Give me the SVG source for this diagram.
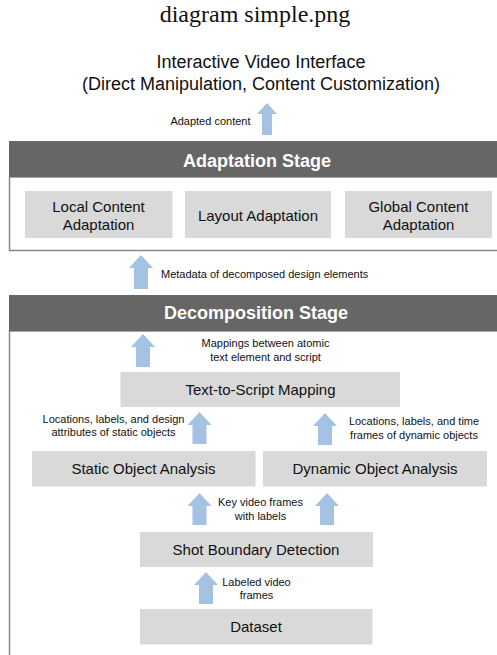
<svg xmlns="http://www.w3.org/2000/svg" width="497" height="655" viewBox="0 0 497 655">
<style>
.hdr{fill:#666666}
.frame{fill:#ffffff;stroke:#888888;stroke-width:1.5}
.box{fill:#d9d9d9}
.arrow{fill:#a4c2e4}
.t{font-family:"Liberation Sans",Arial,sans-serif;fill:#111111;text-anchor:middle}
.big{font-size:18px}
.node{font-size:15px}
.lbl{font-size:11px}
.hd{font-family:"Liberation Sans",Arial,sans-serif;font-weight:bold;font-size:18px;fill:#ffffff;text-anchor:middle}
</style>
<rect width="497" height="655" fill="#ffffff"/>
<text x="255" y="22" font-family="'Liberation Serif','Times New Roman',serif" font-size="24" fill="#111111" text-anchor="middle">diagram simple.png</text>

<g id="interface">
<text class="t big" x="261" y="68">Interactive Video Interface</text>
<text class="t big" x="261" y="90">(Direct Manipulation, Content Customization)</text>
</g>

<g id="adaptation-stage">
<rect class="frame" x="9.5" y="177" width="500" height="73.5"/>
<rect class="hdr" x="9" y="141" width="500" height="36"/>
<text class="hd" x="257" y="167">Adaptation Stage</text>
</g>
<g id="local-content">
<rect class="box" x="25" y="191" width="147.5" height="47"/>
<text class="t node" x="98.5" y="211.5">Local Content</text>
<text class="t node" x="98.5" y="230">Adaptation</text>
</g>
<g id="layout-adaptation">
<rect class="box" x="185" y="191" width="146" height="47"/>
<text class="t node" x="258" y="220.5">Layout Adaptation</text>
</g>
<g id="global-content">
<rect class="box" x="345" y="191" width="147" height="47"/>
<text class="t node" x="418.5" y="211.5">Global Content</text>
<text class="t node" x="418.5" y="230">Adaptation</text>
</g>

<g id="decomposition-stage">
<rect class="frame" x="9.5" y="331" width="500" height="340"/>
<rect class="hdr" x="9" y="295" width="500" height="36"/>
<text class="hd" x="256" y="318.5">Decomposition Stage</text>
</g>
<g id="text-to-script">
<rect class="box" x="120.5" y="372" width="279.5" height="35"/>
<text class="t node" x="260.5" y="395">Text-to-Script Mapping</text>
</g>
<g id="static-object">
<rect class="box" x="32" y="451" width="223.5" height="35.5"/>
<text class="t node" x="143.5" y="474">Static Object Analysis</text>
</g>
<g id="dynamic-object">
<rect class="box" x="263" y="451" width="224" height="35.5"/>
<text class="t node" x="375" y="474">Dynamic Object Analysis</text>
</g>
<g id="shot-boundary">
<rect class="box" x="140" y="532" width="233" height="35"/>
<text class="t node" x="256" y="554.5">Shot Boundary Detection</text>
</g>
<g id="dataset">
<rect class="box" x="140" y="609" width="232.5" height="35.5"/>
<text class="t node" x="256" y="632">Dataset</text>
</g>

<g id="connectors">
<polygon class="arrow" points="267,103 277,114 272,114 272,135 262,135 262,114 257,114"/>
<text class="t lbl" x="250.5" y="125" style="text-anchor:end">Adapted content</text>

<polygon class="arrow" points="141,255 153,268 148,268 148,289 134,289 134,268 129,268"/>
<text class="t lbl" x="161" y="278" style="text-anchor:start">Metadata of decomposed design elements</text>

<polygon class="arrow" points="143,334 155,347 150,347 150,367 136,367 136,347 131,347"/>
<text class="t lbl" x="265.5" y="347">Mappings between atomic</text>
<text class="t lbl" x="265.5" y="361">text element and script</text>

<polygon class="arrow" points="199.5,412 211.5,425 206.5,425 206.5,444 192.5,444 192.5,425 187.5,425"/>
<text class="t lbl" x="113.5" y="422.5">Locations, labels, and design</text>
<text class="t lbl" x="113.5" y="436">attributes of static objects</text>

<polygon class="arrow" points="325,413 337,426 332,426 332,445 318,445 318,426 313,426"/>
<text class="t lbl" x="414" y="425">Locations, labels, and time</text>
<text class="t lbl" x="414" y="439">frames of dynamic objects</text>

<polygon class="arrow" points="199.5,493 211.5,506 206.5,506 206.5,525 192.5,525 192.5,506 187.5,506"/>
<polygon class="arrow" points="327,493 339,506 334,506 334,525 320,525 320,506 315,506"/>
<text class="t lbl" x="260.5" y="506">Key video frames</text>
<text class="t lbl" x="260.5" y="519.5">with labels</text>

<polygon class="arrow" points="206,572 218,585 213,585 213,604 199,604 199,585 194,585"/>
<text class="t lbl" x="256.5" y="585.5">Labeled video</text>
<text class="t lbl" x="256.5" y="599">frames</text>
</g>
</svg>
